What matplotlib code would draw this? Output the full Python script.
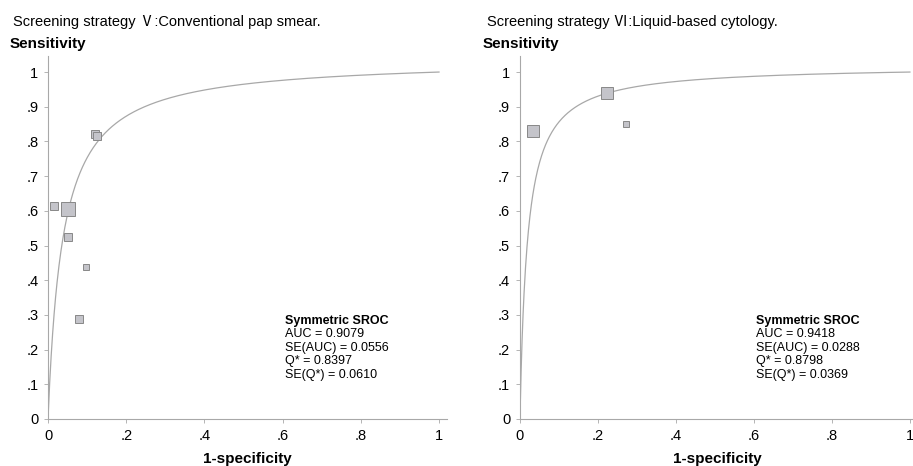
import numpy as np
import matplotlib
matplotlib.use('Agg')
import matplotlib.pyplot as plt

plt.rcParams['font.family'] = ['Liberation Sans', 'Noto Sans CJK SC', 'DejaVu Sans']

# Estrategia V: papanicolau convencional
fpr_v = [0.016, 0.052, 0.051, 0.096, 0.079, 0.121, 0.124]
sens_v = [0.614, 0.604, 0.525, 0.439, 0.289, 0.822, 0.817]
size_v = [6, 9.5, 6, 4.5, 6, 5.5, 5.5]
stats_v = {'AUC': '0.9079', 'SE(AUC)': '0.0556', 'Q*': '0.8397', 'SE(Q*)': '0.0610'}

# Estrategia VI: citologia em meio liquido
fpr_vi = [0.034, 0.222, 0.271]
sens_vi = [0.830, 0.940, 0.850]
size_vi = [8.5, 8.5, 4.5]
stats_vi = {'AUC': '0.9418', 'SE(AUC)': '0.0288', 'Q*': '0.8798', 'SE(Q*)': '0.0369'}

titles = ['Screening strategy Ⅴ:Conventional pap smear.',
          'Screening strategy Ⅵ:Liquid-based cytology.']
ticks = [0, 0.2, 0.4, 0.6, 0.8, 1]
tick_labels = ['0', '.2', '.4', '.6', '.8', '1']
yticks = [0, .1, .2, .3, .4, .5, .6, .7, .8, .9, 1]
ytick_labels = ['0', '.1', '.2', '.3', '.4', '.5', '.6', '.7', '.8', '.9', '1']

fig = plt.figure(figsize=(9.13, 4.66), dpi=100)
ax1 = fig.add_axes([0.0526, 0.1009, 0.4368, 0.778])
ax2 = fig.add_axes([0.5695, 0.1009, 0.4314, 0.778])

axcol = '#a8a8a8'
panels = [(ax1, fpr_v, sens_v, size_v, stats_v, 1.02),
          (ax2, fpr_vi, sens_vi, size_vi, stats_vi, 1.01)]

for i, (ax, fx, sy, sz, st, xmax) in enumerate(panels):
    ax.set_xlim(0, xmax)
    ax.set_ylim(0, 1.045)
    for s in ['top', 'right']:
        ax.spines[s].set_visible(False)
    for s in ['left', 'bottom']:
        ax.spines[s].set_color(axcol)
        ax.spines[s].set_linewidth(0.8)
    ax.tick_params(colors=axcol, labelcolor='black', labelsize=10.5, length=3, width=0.6, pad=4)
    ax.set_xticks(ticks)
    ax.set_xticklabels(tick_labels)
    ax.set_yticks(yticks)
    ax.set_yticklabels(ytick_labels)

    # curva SROC simetrica a partir de Q*
    q = float(st['Q*'])
    a = 2 * np.log(q / (1 - q))
    x = np.linspace(0.0005, 1, 800)
    y = 1 / (1 + np.exp(-a) * (1 - x) / x)
    ax.plot(x, y, color='#a8a8a8', lw=0.9, zorder=2)

    for xx, yy, ss in zip(fx, sy, sz):
        ax.plot(xx, yy, marker='s', ms=ss, mfc='#c4c4ca', mec='#888888', mew=0.7,
                ls='none', zorder=3)

    ax.text(0.606, 0.3, 'Symmetric SROC', fontsize=9, fontweight='bold', va='top')
    lines = ['AUC = ' + st['AUC'], 'SE(AUC) = ' + st['SE(AUC)'],
             'Q* = ' + st['Q*'], 'SE(Q*) = ' + st['SE(Q*)']]
    for k, t in enumerate(lines):
        ax.text(0.606, 0.262 - k * 0.039, t, fontsize=9, va='top')

    ax.set_xlabel('1-specificity', fontsize=11, fontweight='bold', labelpad=7)

fig.text(13 / 913, 1 - 22 / 466, titles[0], fontsize=10.5, va='center')
fig.text(487 / 913, 1 - 22 / 466, titles[1], fontsize=10.5, va='center')
fig.text(10 / 913, 1 - 44 / 466, 'Sensitivity', fontsize=11, fontweight='bold', va='center')
fig.text(483 / 913, 1 - 44 / 466, 'Sensitivity', fontsize=11, fontweight='bold', va='center')

fig.savefig('out.png', dpi=100)
